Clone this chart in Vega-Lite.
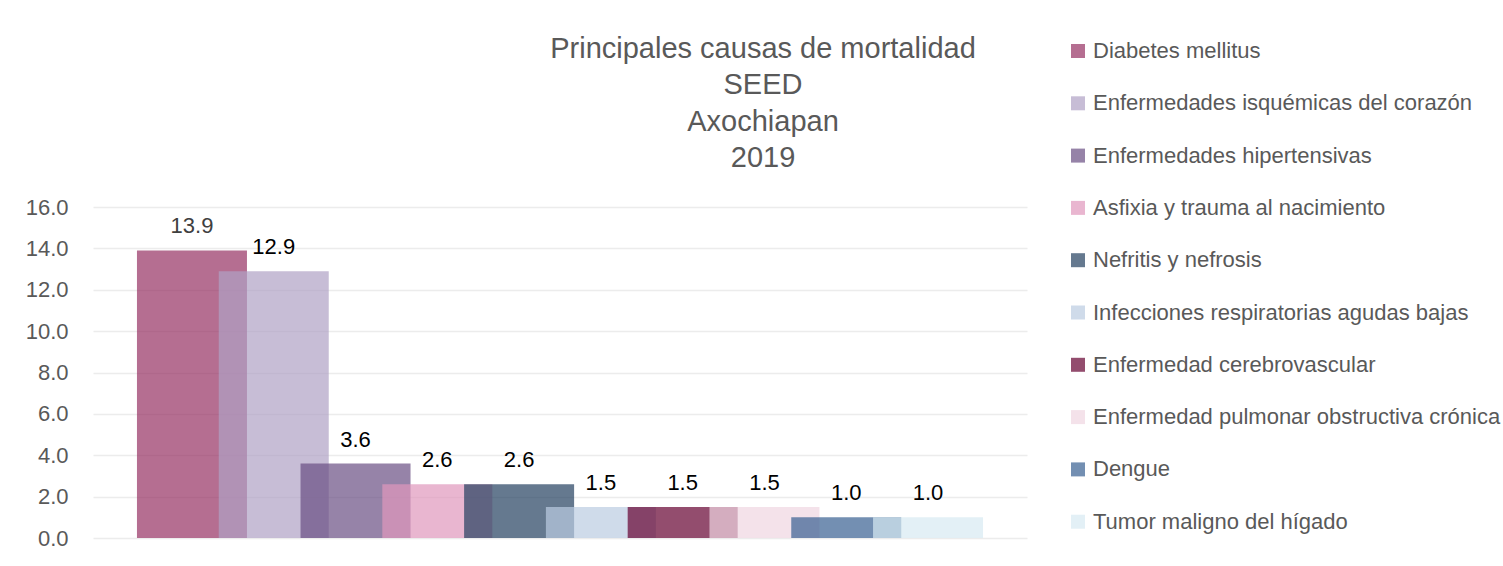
{
  "$schema": "https://vega.github.io/schema/vega-lite/v6.json",
  "width": 934,
  "height": 331,
  "autosize": {"type": "none"},
  "padding": {"left": 93, "top": 207, "right": 476, "bottom": 28},
  "background": "white",
  "config": {"view": {"stroke": null}},
  "title": {
    "text": ["Principales causas de mortalidad", "SEED", "Axochiapan", "2019"],
    "font": "Liberation Sans",
    "fontSize": 29,
    "fontWeight": "normal",
    "color": "#595959",
    "lineHeight": 36.5,
    "anchor": "middle",
    "baseline": "bottom",
    "dx": 203,
    "offset": -162
  },
  "data": {
    "values": [
      {"causa": "Diabetes mellitus", "tasa": 13.9},
      {"causa": "Enfermedades isquémicas del corazón", "tasa": 12.9},
      {"causa": "Enfermedades hipertensivas", "tasa": 3.6},
      {"causa": "Asfixia y trauma al nacimiento", "tasa": 2.6},
      {"causa": "Nefritis y nefrosis", "tasa": 2.6},
      {"causa": "Infecciones respiratorias agudas bajas", "tasa": 1.5},
      {"causa": "Enfermedad cerebrovascular", "tasa": 1.5},
      {"causa": "Enfermedad pulmonar obstructiva crónica", "tasa": 1.5},
      {"causa": "Dengue", "tasa": 1.0},
      {"causa": "Tumor maligno del hígado", "tasa": 1.0}
    ]
  },
  "encoding": {
    "x": {
      "field": "causa",
      "type": "nominal",
      "sort": null,
      "axis": null,
      "scale": {"paddingInner": 0, "paddingOuter": 0.71}
    },
    "y": {
      "field": "tasa",
      "type": "quantitative",
      "scale": {"domain": [0, 16], "nice": false},
      "axis": {
        "title": null,
        "values": [0, 2, 4, 6, 8, 10, 12, 14, 16],
        "format": ".1f",
        "domain": false,
        "ticks": false,
        "tickSize": 0,
        "labelPadding": 25,
        "labelFont": "Liberation Sans",
        "labelFontSize": 22,
        "labelColor": "#595959",
        "gridColor": "#ececec",
        "gridWidth": 1.5
      }
    }
  },
  "layer": [
    {
      "mark": {"type": "bar", "width": 110, "opacity": 0.7},
      "encoding": {
        "color": {
          "field": "causa",
          "type": "nominal",
          "sort": null,
          "scale": {
            "domain": [
              "Diabetes mellitus",
              "Enfermedades isquémicas del corazón",
              "Enfermedades hipertensivas",
              "Asfixia y trauma al nacimiento",
              "Nefritis y nefrosis",
              "Infecciones respiratorias agudas bajas",
              "Enfermedad cerebrovascular",
              "Enfermedad pulmonar obstructiva crónica",
              "Dengue",
              "Tumor maligno del hígado"
            ],
            "range": ["#953062", "#afa1c4", "#694f83", "#e097bc", "#24405f", "#bbcce1", "#650131", "#efd6e1", "#375f92", "#d7eaf2"]
          },
          "legend": {
            "title": null,
            "orient": "none",
            "legendX": 974,
            "legendY": -167,
            "symbolType": "square",
            "symbolSize": 196,
            "symbolOpacity": 0.7,
            "symbolStrokeWidth": 0,
            "labelFont": "Liberation Sans",
            "labelFontSize": 22,
            "labelColor": "#595959",
            "labelOffset": 4,
            "labelLimit": 500,
            "rowPadding": 30.3
          }
        }
      }
    },
    {
      "mark": {
        "type": "text",
        "baseline": "alphabetic",
        "dy": -17,
        "font": "Liberation Sans",
        "fontSize": 22
      },
      "encoding": {
        "text": {"field": "tasa", "type": "quantitative", "format": ".1f"},
        "color": {
          "condition": {"test": "datum.causa === 'Diabetes mellitus'", "value": "#404040"},
          "value": "#000000"
        }
      }
    }
  ]
}
